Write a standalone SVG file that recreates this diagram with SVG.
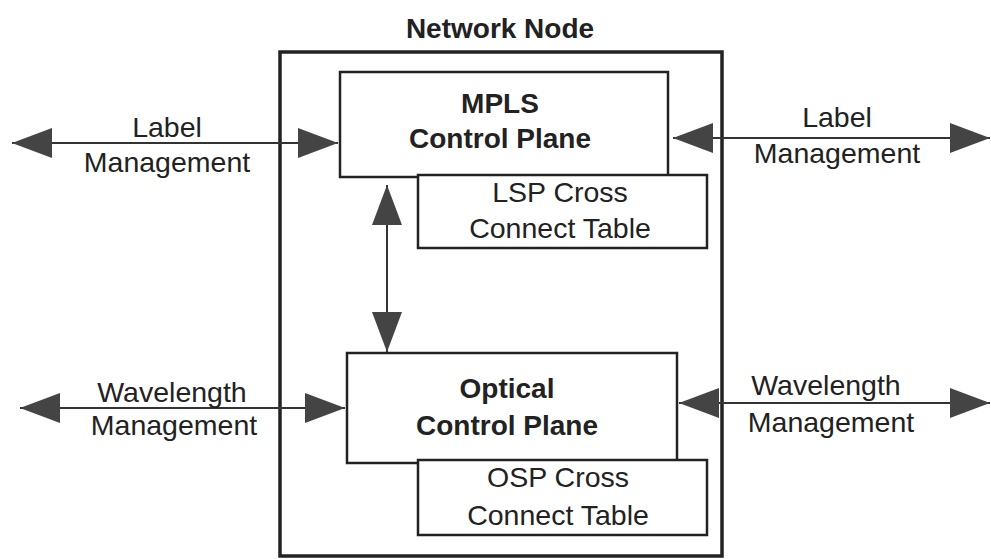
<svg xmlns="http://www.w3.org/2000/svg" width="991" height="559" viewBox="0 0 991 559">
<defs>
<style>
text{font-family:"Liberation Sans",Arial,sans-serif;font-size:28.5px;fill:#222;text-anchor:middle}
.b{font-weight:bold;font-size:28px}
.box{fill:#fff;stroke:#222;stroke-width:2.5}
.ln{stroke:#333;stroke-width:2;fill:none;marker-start:url(#ah);marker-end:url(#ah)}
</style>
<marker id="ah" markerUnits="userSpaceOnUse" markerWidth="42" markerHeight="32" refX="40" refY="15" orient="auto-start-reverse" viewBox="0 0 42 32">
<path d="M0,0 L40,15 L0,30 Z" fill="#444"/>
</marker>
</defs>
<rect width="991" height="559" fill="#fff"/>
<g id="network-node">
<rect x="280" y="52" width="442" height="504" fill="none" stroke="#222" stroke-width="3.5"/>
<text class="b" x="500" y="38">Network Node</text>
</g>
<g id="mpls">
<rect class="box" x="340" y="72" width="328" height="105"/>
<text class="b" x="500" y="113">MPLS</text>
<text class="b" x="500" y="148">Control Plane</text>
</g>
<g id="lsp">
<rect class="box" x="418" y="175" width="289" height="73"/>
<text x="560" y="202">LSP Cross</text>
<text x="560" y="238">Connect Table</text>
</g>
<g id="optical">
<rect class="box" x="347" y="353" width="330" height="110"/>
<text class="b" x="507" y="398">Optical</text>
<text class="b" x="507" y="435">Control Plane</text>
</g>
<g id="osp">
<rect class="box" x="418" y="460" width="289" height="75"/>
<text x="558" y="487">OSP Cross</text>
<text x="558" y="525">Connect Table</text>
</g>
<g id="connectors">
<line class="ln" x1="12" y1="143" x2="338" y2="143"/>
<line class="ln" x1="673" y1="138" x2="990" y2="138"/>
<line class="ln" x1="20" y1="408" x2="345" y2="408"/>
<line class="ln" x1="679" y1="403" x2="990" y2="403"/>
<line class="ln" x1="387" y1="185" x2="387" y2="352"/>
</g>
<g id="labels">
<text x="167" y="137">Label</text>
<text x="167" y="172">Management</text>
<text x="837" y="127">Label</text>
<text x="837" y="163">Management</text>
<text x="172" y="402">Wavelength</text>
<text x="174" y="435">Management</text>
<text x="826" y="395">Wavelength</text>
<text x="831" y="432">Management</text>
</g>
</svg>
